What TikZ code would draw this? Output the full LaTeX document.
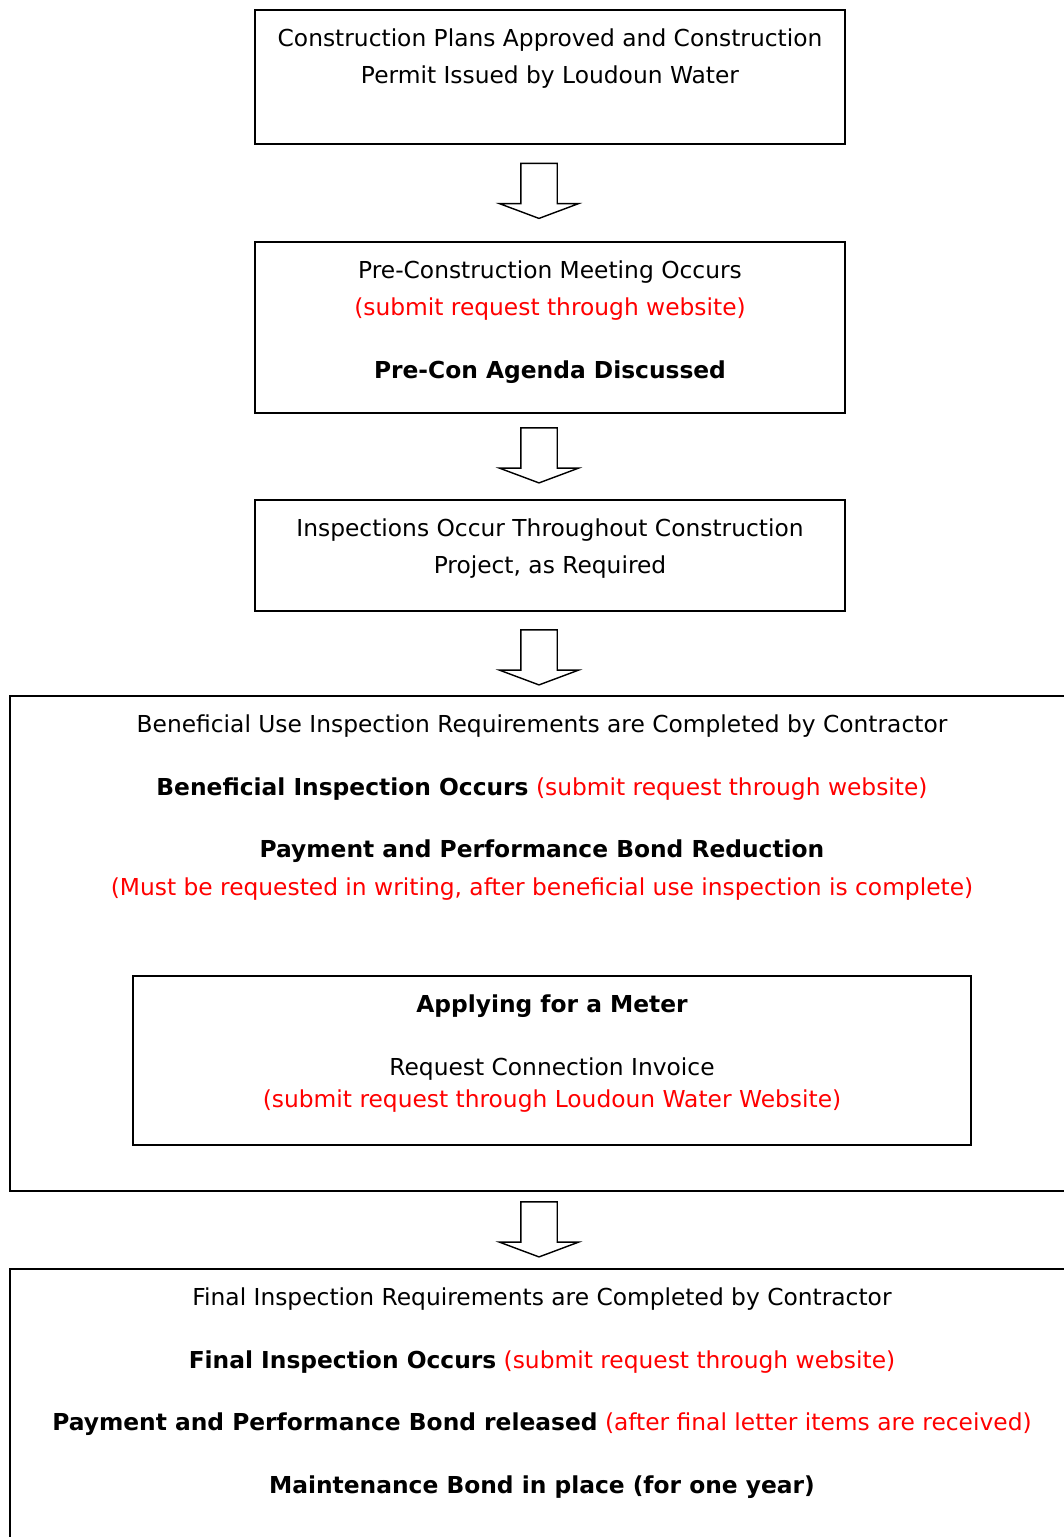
\documentclass[tikz,border=0pt]{standalone}
\usepackage{fontspec}
\setmainfont{DejaVu Sans}
\usetikzlibrary{positioning,shapes.arrows}
\definecolor{reqred}{RGB}{255,0,0}
\newcommand{\req}[1]{\textcolor{reqred}{#1}}

\begin{document}
\begin{tikzpicture}[x=0.025cm, y=-0.025cm,
  stage/.style={draw, line width=1.4pt, inner sep=0pt},
  txt/.style={align=center, inner sep=0pt, font=\fontsize{16.6}{26.7}\selectfont},
  blockarrow/.style={single arrow, draw, line width=1pt, rotate=-90,
    inner xsep=0pt, inner ysep=0.4375cm,
    minimum height=1.375cm, single arrow head extend=0.53cm,
    single arrow tip angle=139}
]
\useasboundingbox (0,0) rectangle (1064,1537);
\clip (0,0) rectangle (1064,1537);

% Stage boxes (top to bottom)
\node[stage, minimum width=14.75cm, minimum height=3.35cm] (plans) at (550,77) {};
\node[stage, minimum width=14.75cm, minimum height=4.275cm] (precon) at (550,327.5) {};
\node[stage, minimum width=14.75cm, minimum height=2.775cm] (inspect) at (550,555.5) {};
\node[stage, minimum width=26.6cm, minimum height=12.375cm] (benefit) at (542,943.5) {};
\node[stage, minimum width=20.95cm, minimum height=4.225cm] (meter) at (552,1060.5) {};
\node[stage, minimum width=26.6cm, minimum height=7.275cm] (final) at (542,1414.5) {};

% Texts
\node[txt, below=0.48cm of plans.north] (plans text)
  {Construction Plans Approved and Construction\\Permit Issued by Loudoun Water};
\node[txt, below=0.48cm of precon.north] (precon text)
  {Pre-Construction Meeting Occurs\\\req{(submit request through website)}\\[18pt]
   \textbf{Pre-Con Agenda Discussed}};
\node[txt, below=0.48cm of inspect.north] (inspect text)
  {Inspections Occur Throughout Construction\\Project, as Required};
\node[txt, below=0.48cm of benefit.north] (benefit text)
  {Beneficial Use Inspection Requirements are Completed by Contractor\\[18pt]
   \textbf{Beneficial Inspection Occurs} \req{(submit request through website)}\\[18pt]
   \textbf{Payment and Performance Bond Reduction}\\
   \req{(Must be requested in writing, after beneficial use inspection is complete)}};
\node[txt, below=0.48cm of meter.north] (meter text)
  {\textbf{Applying for a Meter}\\[18pt]
   Request Connection Invoice\\[-4pt]
   \req{(submit request through Loudoun Water Website)}};
\node[txt, below=0.48cm of final.north] (final text)
  {Final Inspection Requirements are Completed by Contractor\\[18pt]
   \textbf{Final Inspection Occurs} \req{(submit request through website)}\\[18pt]
   \textbf{Payment and Performance Bond released} \req{(after final letter items are received)}\\[18pt]
   \textbf{Maintenance Bond in place (for one year)}};

% Block arrows between stages
\node[blockarrow] (arrow1) at (539,187.5) {};
\node[blockarrow] (arrow2) at (539,452) {};
\node[blockarrow] (arrow3) at (539,654) {};
\node[blockarrow] (arrow4) at (539,1226) {};

\end{tikzpicture}
\end{document}
